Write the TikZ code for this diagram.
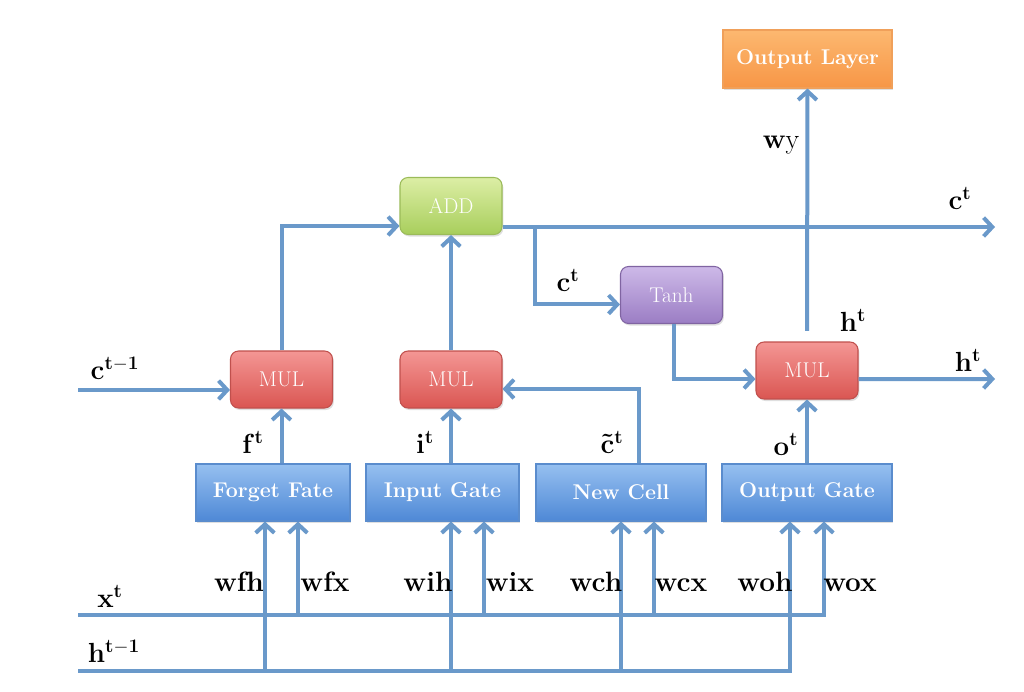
\documentclass[tikz,border=0pt]{standalone}
\usetikzlibrary{arrows.meta,shadows}
\definecolor{lc}{RGB}{106,153,202}
\definecolor{bluet}{RGB}{150,192,240}
\definecolor{blueb}{RGB}{78,136,214}
\definecolor{bluer}{RGB}{90,140,205}
\definecolor{redt}{RGB}{244,150,148}
\definecolor{redb}{RGB}{218,86,82}
\definecolor{redr}{RGB}{192,80,77}
\definecolor{greent}{RGB}{220,238,165}
\definecolor{greenb}{RGB}{168,206,92}
\definecolor{greenr}{RGB}{155,187,89}
\definecolor{purt}{RGB}{205,185,232}
\definecolor{purb}{RGB}{155,125,196}
\definecolor{purr}{RGB}{128,100,162}
\definecolor{orat}{RGB}{252,184,112}
\definecolor{orab}{RGB}{247,150,70}
\definecolor{orar}{RGB}{240,160,90}
\begin{document}
\begin{tikzpicture}[x=0.75pt,y=-0.75pt,
  ln/.style={draw=lc, line width=3pt},
  arr/.style={ln, -{Straight Barb[length=6.5pt,width=14pt]}},
  boxbase/.style={line width=0.8pt, text=white, inner sep=0pt,
    font=\fontsize{16}{18}\selectfont,
    drop shadow={opacity=0.25, shadow xshift=1pt, shadow yshift=-1.5pt}},
  opbox/.style={boxbase, rounded corners=6pt, minimum width=76.5pt, minimum height=42.75pt},
  mulbox/.style={opbox, draw=redr, top color=redt, bottom color=redb},
  addbox/.style={opbox, draw=greenr, top color=greent, bottom color=greenb},
  tanhbox/.style={opbox, draw=purr, top color=purt, bottom color=purb},
  gatebox/.style={boxbase, draw=bluer, top color=bluet, bottom color=blueb,
    minimum height=42.75pt, font=\fontsize{16}{18}\selectfont\bfseries},
  outbox/.style={boxbase, draw=orar, top color=orat, bottom color=orab,
    minimum width=126.75pt, minimum height=43.5pt, font=\fontsize{16}{18}\selectfont\bfseries},
  lab/.style={inner sep=0pt, font=\fontsize{21}{24}\selectfont\bfseries},
  wlab/.style={lab, anchor=base}
]
\useasboundingbox (0,0) rectangle (1024,692);
\fill[white] (0,0) rectangle (1024,692);

% boxes
\node[outbox] (OL) at (807.5,59) {Output Layer};
\node[addbox] (ADD) at (451,206) {ADD};
\node[tanhbox] (T) at (671.5,295) {Tanh};
\node[mulbox] (M1) at (281.5,379.5) {MUL};
\node[mulbox] (M2) at (451,379.5) {MUL};
\node[mulbox] (M3) at (807,370.5) {MUL};
\node[gatebox, minimum width=115.5pt] (FG) at (273,492.5) {Forget Fate};
\node[gatebox, minimum width=114.75pt] (IG) at (442.5,492.5) {Input Gate};
\node[gatebox, minimum width=127.5pt] (NC) at (621,492.5) {New Cell};
\node[gatebox, minimum width=127.5pt] (OG) at (807,492.5) {Output Gate};

% coordinates
\coordinate (cin) at (78,390);
\coordinate (cout) at (995,227);
\coordinate (br) at (535,227);
\coordinate (hout) at (995,379);
\coordinate (xL) at (78,615);
\coordinate (hL) at (78,671);
\coordinate (x1) at (298,615);
\coordinate (x2) at (484,615);
\coordinate (x3) at (654,615);
\coordinate (x4) at (824,615);
\coordinate (h1) at (265,671);
\coordinate (h2) at (451,671);
\coordinate (h3) at (621,671);
\coordinate (h4) at (790,671);

% connectors
\draw[arr] (cin) -- (cin -| M1.west);
\draw[arr] (M1.south |- FG.north) -- (M1.south);
\draw[arr] (M2.south |- IG.north) -- (M2.south);
\draw[arr] (OG.north) -- (M3.south);
\draw[arr] ([xshift=13.5pt]NC.north) |- ([yshift=-7.1pt]M2.east);
\draw[arr] (M1.north) |- ([yshift=-15pt]ADD.west);
\draw[arr] (M2.north) -- (ADD.south);
\draw[arr] ([yshift=-15.75pt]ADD.east) -- (cout);
\draw[arr] (br) |- ([yshift=-7.1pt]T.west);
\draw[arr] ([xshift=1.5pt]T.south) |- ([yshift=-6.4pt]M3.west);
\draw[arr] ([yshift=-6.4pt]M3.east) -- (hout);
\draw[arr] ([yshift=8pt]M3.north) -- (OL.south);

% input lines
\draw[arr] (xL) -| (x4 |- OG.south);
\draw[arr] (x1) -- (x1 |- FG.south);
\draw[arr] (x2) -- (x2 |- IG.south);
\draw[arr] (x3) -- (x3 |- NC.south);
\draw[arr] (hL) -| (h4 |- OG.south);
\draw[arr] (h1) -- (h1 |- FG.south);
\draw[arr] (h2) -- (h2 |- IG.south);
\draw[arr] (h3) -- (h3 |- NC.south);

% labels
\node[lab] (lct1) at (115,368) {$\mathbf{c^{t-1}}$};
\node[lab] (lft) at (253,442) {$\mathbf{f^{t}}$};
\node[lab] (lit) at (425,442) {$\mathbf{i^{t}}$};
\node[lab] (lcc) at (612,442) {$\mathbf{\tilde{c}^{t}}$};
\node[lab] (lot) at (786,444) {$\mathbf{o^{t}}$};
\node[lab] (lct2) at (568,280) {$\mathbf{c^{t}}$};
\node[lab] (lht1) at (853,320) {$\mathbf{h^{t}}$};
\node[lab] (lht2) at (968,360) {$\mathbf{h^{t}}$};
\node[lab] (lct3) at (960,198) {$\mathbf{c^{t}}$};
\node[lab] (lwy) at (781,145) {w\mdseries y};
\node[lab] (lxt) at (110,596) {$\mathbf{x^{t}}$};
\node[lab] (lht3) at (114,651) {$\mathbf{h^{t-1}}$};
\node[wlab] (lwfh) at (239,591) {wfh};
\node[wlab] (lwfx) at (325,591) {wfx};
\node[wlab] (lwih) at (428,591) {wih};
\node[wlab] (lwix) at (510,591) {wix};
\node[wlab] (lwch) at (596,591) {wch};
\node[wlab] (lwcx) at (681,591) {wcx};
\node[wlab] (lwoh) at (765,591) {woh};
\node[wlab] (lwox) at (850,591) {wox};
\end{tikzpicture}
\end{document}
